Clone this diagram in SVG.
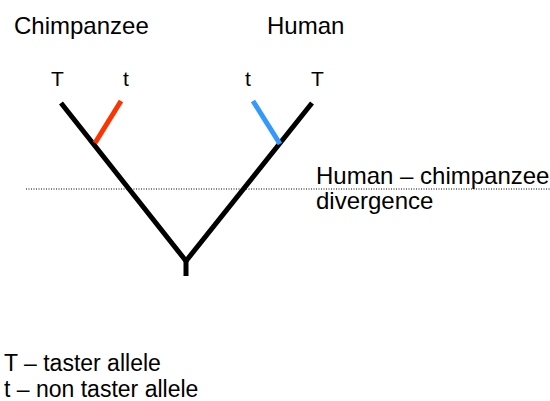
<svg xmlns="http://www.w3.org/2000/svg" width="550" height="401" viewBox="0 0 550 401">
<style>
text{font-family:"Liberation Sans",Arial,sans-serif;font-size:24px;fill:#000}
.al{font-size:21px}
.lg{font-size:23px}
.br{stroke:#000;stroke-width:5;fill:none}
</style>
<rect width="550" height="401" fill="#fff"/>
<g id="labels">
<text x="14" y="34">Chimpanzee</text>
<text x="267" y="34">Human</text>
<text class="al" x="51" y="86">T</text>
<text class="al" x="123" y="86">t</text>
<text class="al" x="245" y="86">t</text>
<text class="al" x="311" y="86">T</text>
<text x="316" y="184">Human – chimpanzee</text>
<text x="316" y="209">divergence</text>
<text class="lg" x="4" y="371">T – taster allele</text>
<text class="lg" x="4" y="397">t – non taster allele</text>
</g>
<g id="connectors">
<line x1="26" y1="189" x2="550" y2="189" stroke="#000" stroke-width="1" stroke-dasharray="1,1.5"/>
<polyline class="br" points="61,103 186,261 312,103"/>
<line class="br" x1="186" y1="259" x2="186" y2="276"/>
<line x1="95" y1="143" x2="121" y2="101" stroke="#ff3300" stroke-width="5"/>
<line x1="253" y1="101" x2="280" y2="144" stroke="#3399ff" stroke-width="5"/>
</g>
</svg>
